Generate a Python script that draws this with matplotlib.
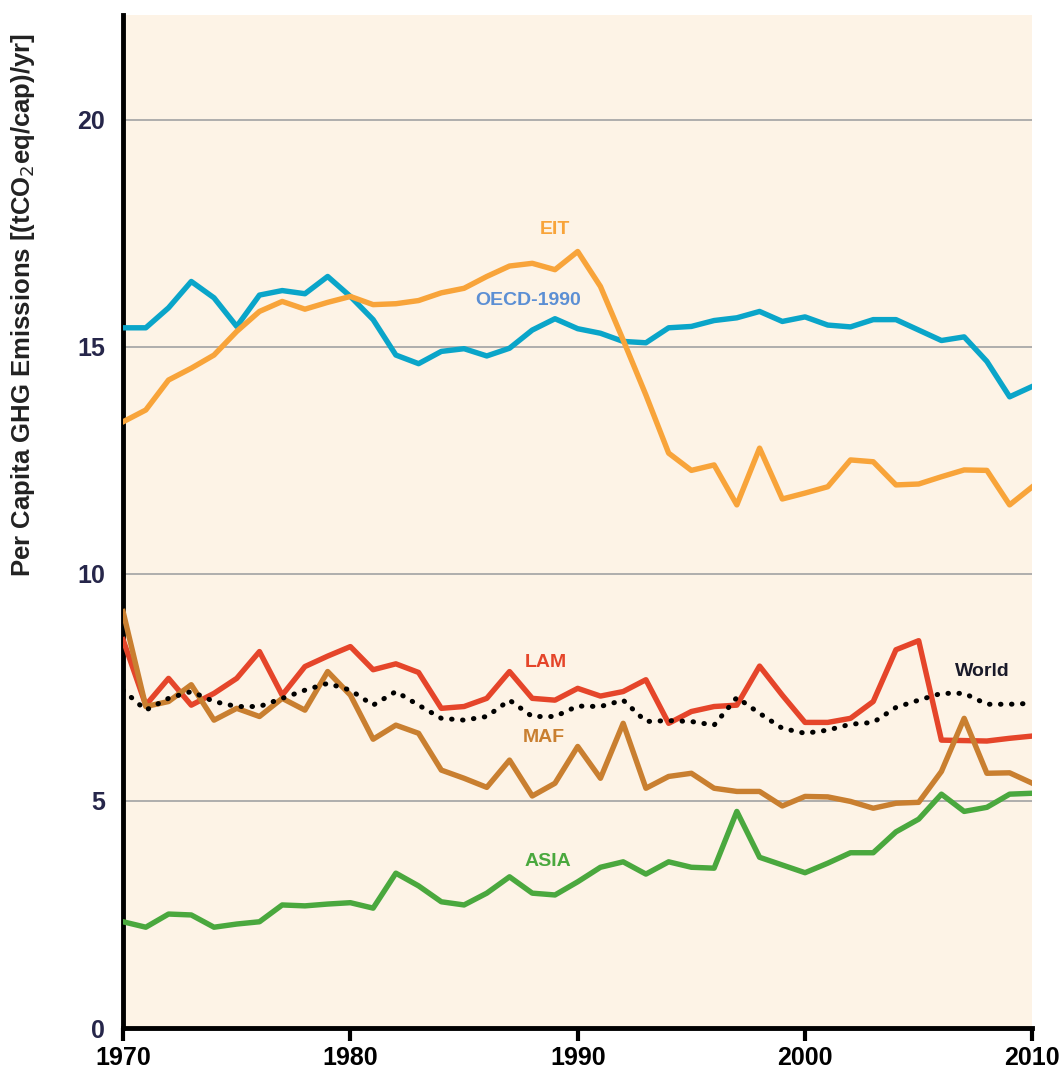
import matplotlib
matplotlib.use("Agg")
import matplotlib.pyplot as plt

years = list(range(1970, 2011))

oecd = [15.42, 15.42, 15.86, 16.44, 16.08, 15.45, 16.14, 16.24, 16.17, 16.55,
        16.11, 15.60, 14.82, 14.63, 14.90, 14.96, 14.80, 14.97, 15.37, 15.62,
        15.40, 15.30, 15.12, 15.09, 15.42, 15.45, 15.58, 15.64, 15.78, 15.56,
        15.66, 15.48, 15.44, 15.60, 15.60, 15.37, 15.14, 15.22, 14.68, 13.90,
        14.13]
eit = [13.35, 13.61, 14.27, 14.53, 14.82, 15.34, 15.78, 16.00, 15.83, 15.98,
       16.11, 15.93, 15.95, 16.02, 16.19, 16.29, 16.55, 16.78, 16.84, 16.70,
       17.10, 16.33, 15.15, 13.94, 12.66, 12.28, 12.40, 11.52, 12.77, 11.65,
       11.78, 11.92, 12.51, 12.47, 11.96, 11.98, 12.14, 12.29, 12.28, 11.52,
       11.92]
lam = [8.55, 7.11, 7.70, 7.11, 7.37, 7.70, 8.29, 7.33, 7.96, 8.19,
       8.40, 7.89, 8.02, 7.83, 7.04, 7.08, 7.26, 7.85, 7.26, 7.22,
       7.48, 7.31, 7.41, 7.67, 6.71, 6.97, 7.08, 7.11, 7.97, 7.33,
       6.73, 6.73, 6.82, 7.19, 8.33, 8.53, 6.34, 6.33, 6.32, 6.38,
       6.43]
world = [7.44, 7.00, 7.26, 7.41, 7.19, 7.08, 7.08, 7.26, 7.44, 7.59,
         7.44, 7.11, 7.41, 7.11, 6.82, 6.78, 6.86, 7.22, 6.86, 6.86,
         7.09, 7.08, 7.22, 6.75, 6.77, 6.75, 6.67, 7.28, 6.93, 6.60,
         6.49, 6.56, 6.69, 6.73, 7.06, 7.22, 7.37, 7.37, 7.13, 7.13,
         7.15]
maf = [9.17, 7.08, 7.19, 7.56, 6.78, 7.04, 6.86, 7.26, 7.00, 7.85,
       7.33, 6.36, 6.67, 6.49, 5.68, 5.50, 5.30, 5.90, 5.11, 5.39,
       6.20, 5.50, 6.71, 5.28, 5.54, 5.61, 5.28, 5.21, 5.21, 4.89,
       5.10, 5.09, 4.99, 4.84, 4.95, 4.97, 5.65, 6.82, 5.61, 5.62,
       5.39]
asia = [2.34, 2.22, 2.51, 2.49, 2.22, 2.29, 2.34, 2.71, 2.69, 2.73,
        2.76, 2.64, 3.41, 3.13, 2.78, 2.71, 2.97, 3.33, 2.97, 2.93,
        3.22, 3.54, 3.66, 3.39, 3.66, 3.54, 3.52, 4.77, 3.76, 3.59,
        3.42, 3.63, 3.86, 3.86, 4.32, 4.60, 5.15, 4.77, 4.86, 5.15,
        5.17]

plt.rcParams["font.family"] = ["Liberation Sans", "DejaVu Sans"]

fig = plt.figure(figsize=(10.61, 10.75), dpi=100)
ax = fig.add_axes([0.116, 0.0437, 0.857, 0.942])
ax.set_facecolor("#FDF3E6")

for g in [5, 10, 15, 20]:
    ax.axhline(g, color="#A8A8A8", lw=1.3, zorder=1)

lw = 3.9
ax.plot(years, oecd, color="#0AA5C9", lw=lw, zorder=3)
ax.plot(years, eit, color="#F8A43A", lw=lw, zorder=3)
ax.plot(years, lam, color="#E5452A", lw=lw, zorder=3)
ax.plot(years, maf, color="#C97F30", lw=lw, zorder=3)
ax.plot(years, asia, color="#4AA83E", lw=lw, zorder=3)
ax.plot(years, world, color="black", lw=3.6, ls=(0, (0.1, 2.1)), zorder=4,
        dash_capstyle="round")

lab = dict(fontsize=14, fontweight="bold", ha="center", va="center", zorder=5)
ax.text(1989.0, 17.58, "EIT", color="#F8A43A", **lab)
ax.text(1987.8, 16.03, "OECD-1990", color="#5C8FD4", **lab)
ax.text(1988.6, 8.04, "LAM", color="#E5452A", **lab)
ax.text(2007.8, 7.86, "World", color="#1A1A2A", **lab)
ax.text(1988.5, 6.39, "MAF", color="#C97F30", **lab)
ax.text(1988.7, 3.66, "ASIA", color="#4AA83E", **lab)

ax.set_xlim(1970, 2010)
ax.set_ylim(0, 22.3)
ax.set_xticks([1970, 1980, 1990, 2000, 2010])
ax.set_yticks([0, 5, 10, 15, 20])
ax.tick_params(axis="x", direction="out", length=9, width=3, labelsize=18,
               pad=4)
ax.tick_params(axis="y", length=0, labelsize=18, pad=13, labelcolor="#26264A")
for t in ax.get_xticklabels() + ax.get_yticklabels():
    t.set_fontweight("bold")

for s in ["top", "right"]:
    ax.spines[s].set_visible(False)
ax.spines["left"].set_linewidth(3.5)
ax.spines["bottom"].set_linewidth(3.5)

ax.set_ylabel("Per Capita GHG Emissions [(tCO$_2$eq/cap)/yr]", fontsize=18.5,
              fontweight="bold", color="#222222")
ax.yaxis.set_label_coords(-0.095, 0.714)

fig.savefig("out.png", dpi=100)
